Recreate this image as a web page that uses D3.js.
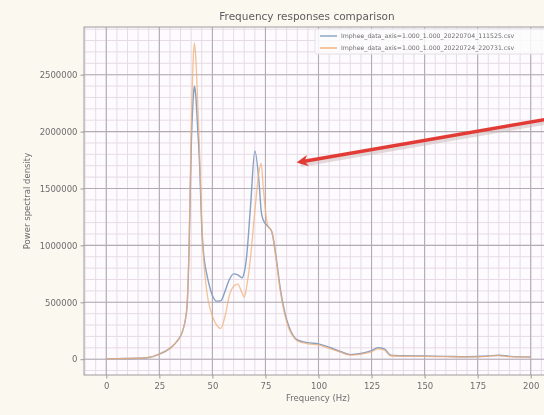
<!DOCTYPE html>
<html>
<head>
<meta charset="utf-8">
<script src="https://cdn.jsdelivr.net/npm/d3@7"></script>
<style>
html,body{margin:0;padding:0;background:#faf8ef;}
svg{display:block;filter:blur(0.45px);}
text{font-family:"DejaVu Sans",sans-serif;}
</style>
</head>
<body>
<svg id="chart" width="544" height="415"></svg>
<script>
// ---- data ----
const title = "Frequency responses comparison";
const xLabel = "Frequency (Hz)";
const yLabel = "Power spectral density";
const seriesNames = [
  "Imphee_data_axis=1.000_1.000_20220704_111525.csv",
  "Imphee_data_axis=1.000_1.000_20220724_220731.csv"
];
const xTicks = [0, 25, 50, 75, 100, 125, 150, 175, 200];
const yTicks = [0, 500000, 1000000, 1500000, 2000000, 2500000];
const freq = [0,5,10,15,20,25,30,33,36,38,39,40,41,41.5,42,43,44,45,46,47,48,50,52,54,56,58,60,62,64,65,66,68,70,72,73,74,76,78,80,82,84,86,88,90,95,100,105,110,115,120,125,128,131,134,140,150,160,170,180,185,190,200];
const psdA = [5,5,6,8,15,45,95,150,250,450,950,1850,2300,2400,2350,2050,1700,1150,900,780,690,560,510,515,600,700,750,740,715,760,880,1350,1830,1550,1300,1220,1170,1120,900,620,420,290,210,170,145,135,105,70,40,50,75,100,90,35,30,28,25,22,28,35,25,20].map(v => v*1000);
const psdB = [5,5,6,8,15,45,95,150,250,450,1000,2000,2650,2780,2700,2300,1800,1200,850,650,520,380,300,270,380,560,640,660,580,545,620,900,1300,1650,1720,1500,1180,1120,880,600,400,270,200,160,135,125,95,65,35,45,65,90,80,30,26,25,22,20,25,32,22,18].map(v => v*1000);

// ---- layout ----
const svg = d3.select("#chart");
const L = 84, R = 553, T = 27, B = 375;
const x = d3.scaleLinear().domain([-10.5, 210.5]).range([L, R]);
const y = d3.scaleLinear().domain([-139000, 2919000]).range([B, T]);

const defs = svg.append("defs");
defs.append("clipPath").attr("id","clip")
  .append("rect").attr("x",L).attr("y",T).attr("width",R-L).attr("height",B-T);
defs.append("marker").attr("id","ah")
  .attr("viewBox","0 0 10 10").attr("refX",7).attr("refY",5)
  .attr("markerWidth",3.4).attr("markerHeight",3.4).attr("orient","auto")
  .append("path").attr("d","M10,5 L0,0 L3,5 L0,10 Z").attr("fill","#e23b36");

svg.append("rect").attr("x",L).attr("y",T).attr("width",R-L).attr("height",B-T).attr("fill","#fdfbfd");

// grids
const g = svg.append("g").attr("clip-path","url(#clip)");
const xMinor = d3.range(-10, 215, 5);
const yMinor = d3.range(-100000, 2950000, 100000);
g.selectAll(".xm").data(xMinor).join("line")
  .attr("x1",d=>x(d)).attr("x2",d=>x(d)).attr("y1",T).attr("y2",B)
  .attr("stroke","#e6dbe6").attr("stroke-width",1);
g.selectAll(".ym").data(yMinor).join("line")
  .attr("y1",d=>y(d)).attr("y2",d=>y(d)).attr("x1",L).attr("x2",R)
  .attr("stroke","#e6dbe6").attr("stroke-width",1);
g.selectAll(".xM").data(xTicks).join("line")
  .attr("x1",d=>x(d)).attr("x2",d=>x(d)).attr("y1",T).attr("y2",B)
  .attr("stroke","#b3abb4").attr("stroke-width",1.1);
g.selectAll(".yM").data(yTicks).join("line")
  .attr("y1",d=>y(d)).attr("y2",d=>y(d)).attr("x1",L).attr("x2",R)
  .attr("stroke","#b3abb4").attr("stroke-width",1.1);

// lines
const lineGen = d3.line().x((d,i)=>x(freq[i])).y(d=>y(d)).curve(d3.curveMonotoneX);
g.append("path").datum(psdA).attr("d",lineGen).attr("fill","none")
  .attr("stroke","#86a0c2").attr("stroke-width",1.4);
g.append("path").datum(psdB).attr("d",lineGen).attr("fill","none")
  .attr("stroke","#f2ae74").attr("stroke-width",1.3).attr("stroke-opacity",0.75);

// spines
svg.append("rect").attr("x",L).attr("y",T).attr("width",R-L).attr("height",B-T)
  .attr("fill","none").attr("stroke","#9d9a9d").attr("stroke-width",1);

// axes
const xAxis = d3.axisBottom(x).tickValues(xTicks).tickSize(3.5).tickPadding(4).tickFormat(d3.format("d"));
const yAxis = d3.axisLeft(y).tickValues(yTicks).tickSize(3.5).tickPadding(3).tickFormat(d3.format("d"));
const ax = svg.append("g").attr("transform",`translate(0,${B})`).call(xAxis);
const ay = svg.append("g").attr("transform",`translate(${L},0)`).call(yAxis);
[ax, ay].forEach(a => {
  a.select(".domain").remove();
  a.selectAll(".tick line").attr("stroke","#9d9a9d");
  a.selectAll(".tick text").attr("fill","#6f6c70").attr("font-size",8.5).attr("font-family","DejaVu Sans");
});

// texts
svg.append("text").attr("x",307).attr("y",20).attr("text-anchor","middle")
  .attr("font-size",10.5).attr("fill","#5e5b60").text(title);
svg.append("text").attr("x",318).attr("y",401).attr("text-anchor","middle")
  .attr("font-size",8.5).attr("fill","#6f6c70").text(xLabel);
svg.append("text").attr("transform","translate(30,201) rotate(-90)").attr("text-anchor","middle")
  .attr("font-size",8.5).attr("fill","#6f6c70").text(yLabel);

// legend
const lg = svg.append("g");
lg.append("rect").attr("x",315).attr("y",29).attr("width",250).attr("height",25)
  .attr("fill","#fdfcfd").attr("fill-opacity",0.85).attr("stroke","#e4e0e4").attr("rx",2);
const colors = ["#86a0c2", "#f2ae74"];
seriesNames.forEach((n,i) => {
  const yy = 36 + i*12;
  lg.append("line").attr("x1",320).attr("x2",337).attr("y1",yy).attr("y2",yy)
    .attr("stroke",colors[i]).attr("stroke-width",1.4);
  lg.append("text").attr("x",341).attr("y",yy+2.2).attr("font-size",6.2)
    .attr("fill","#6f6c70").text(n);
});

// red annotation arrow
svg.append("line").attr("x1",560).attr("y1",117).attr("x2",300).attr("y2",162)
  .attr("stroke","#c9b8b8").attr("stroke-opacity",0.5).attr("stroke-width",4)
  .attr("transform","translate(1,3)");
svg.append("line").attr("x1",560).attr("y1",117).attr("x2",300).attr("y2",162)
  .attr("stroke","#e23b36").attr("stroke-width",3.4).attr("marker-end","url(#ah)");
</script>
</body>
</html>
